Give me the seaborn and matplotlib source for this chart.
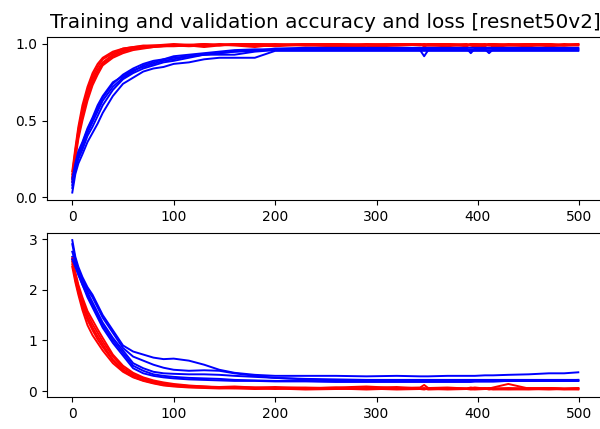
import matplotlib
matplotlib.use("Agg")
import matplotlib.pyplot as plt
import seaborn as sns

EPOCHS = [0, 3, 6, 10, 15, 20, 25, 30, 40, 50,
          60, 70, 80, 90, 100, 115, 130, 145, 160, 180,
          200, 230, 260, 290, 320, 343, 347, 351, 370, 389,
          393, 397, 407, 411, 415, 430, 450, 470, 485, 499]

# training accuracy, one list per run
acc_1 = [0.12, 0.28, 0.42, 0.55, 0.68, 0.77, 0.83, 0.88, 0.93, 0.96,
         0.97, 0.98, 0.985, 0.99, 0.99, 0.995, 0.99, 1.0, 0.995, 1.0,
         0.995, 1.0, 0.99, 1.0, 0.995, 1.0, 0.99, 1.0, 0.995, 1.0,
         0.99, 1.0, 0.995, 1.0, 0.99, 1.0, 0.995, 1.0, 0.99, 1.0]
acc_2 = [0.15, 0.30, 0.44, 0.57, 0.70, 0.79, 0.85, 0.90, 0.94, 0.97,
         0.98, 0.985, 0.99, 0.99, 0.995, 0.99, 1.0, 0.99, 1.0, 0.995,
         1.0, 0.99, 1.0, 0.995, 1.0, 0.99, 1.0, 0.995, 1.0, 0.99,
         1.0, 0.995, 1.0, 0.99, 1.0, 0.995, 1.0, 0.99, 1.0, 0.995]
acc_3 = [0.10, 0.25, 0.38, 0.50, 0.63, 0.73, 0.80, 0.86, 0.91, 0.94,
         0.96, 0.97, 0.98, 0.985, 0.99, 0.985, 0.99, 0.995, 0.99, 0.98,
         0.995, 0.99, 0.985, 0.995, 0.99, 0.995, 1.0, 0.99, 0.985, 0.995,
         0.99, 0.98, 0.995, 0.99, 0.995, 0.99, 0.985, 0.995, 0.99, 0.99]
acc_4 = [0.17, 0.32, 0.46, 0.60, 0.72, 0.81, 0.87, 0.91, 0.95, 0.97,
         0.98, 0.99, 0.99, 0.995, 1.0, 0.995, 1.0, 0.995, 1.0, 1.0,
         0.995, 1.0, 1.0, 0.995, 1.0, 1.0, 0.995, 1.0, 1.0, 0.995,
         1.0, 1.0, 0.995, 1.0, 1.0, 0.995, 1.0, 1.0, 0.995, 1.0]
acc_5 = [0.13, 0.27, 0.40, 0.53, 0.66, 0.75, 0.82, 0.87, 0.92, 0.95,
         0.97, 0.975, 0.98, 0.985, 0.985, 0.99, 0.98, 0.99, 0.995, 0.99,
         0.985, 0.995, 0.99, 0.98, 0.99, 0.995, 0.985, 0.99, 0.995, 0.985,
         0.995, 0.99, 0.985, 0.995, 0.98, 0.99, 0.995, 0.985, 0.99, 0.995]

# validation accuracy
val_acc_1 = [0.03, 0.15, 0.22, 0.28, 0.36, 0.42, 0.48, 0.55, 0.66, 0.74,
             0.78, 0.82, 0.84, 0.85, 0.87, 0.88, 0.90, 0.91, 0.91, 0.91,
             0.955, 0.955, 0.955, 0.955, 0.955, 0.955, 0.955, 0.955, 0.955, 0.955,
             0.955, 0.955, 0.955, 0.955, 0.955, 0.955, 0.955, 0.955, 0.955, 0.955]
val_acc_2 = [0.06, 0.18, 0.25, 0.31, 0.40, 0.46, 0.53, 0.60, 0.70, 0.77,
             0.81, 0.84, 0.86, 0.88, 0.89, 0.91, 0.93, 0.93, 0.93, 0.95,
             0.96, 0.96, 0.96, 0.96, 0.96, 0.96, 0.92, 0.96, 0.96, 0.96,
             0.96, 0.96, 0.96, 0.96, 0.96, 0.96, 0.96, 0.96, 0.96, 0.96]
val_acc_3 = [0.08, 0.20, 0.27, 0.33, 0.42, 0.49, 0.56, 0.63, 0.72, 0.78,
             0.82, 0.86, 0.88, 0.90, 0.91, 0.92, 0.93, 0.94, 0.95, 0.96,
             0.96, 0.97, 0.97, 0.97, 0.97, 0.97, 0.97, 0.97, 0.97, 0.97,
             0.94, 0.97, 0.97, 0.97, 0.97, 0.97, 0.97, 0.97, 0.97, 0.97]
val_acc_4 = [0.10, 0.21, 0.29, 0.35, 0.44, 0.51, 0.58, 0.65, 0.74, 0.80,
             0.84, 0.87, 0.89, 0.90, 0.92, 0.93, 0.94, 0.95, 0.96, 0.965,
             0.965, 0.965, 0.965, 0.965, 0.965, 0.965, 0.965, 0.965, 0.965, 0.965,
             0.965, 0.965, 0.965, 0.94, 0.965, 0.965, 0.965, 0.965, 0.965, 0.965]
val_acc_5 = [0.12, 0.22, 0.30, 0.36, 0.45, 0.52, 0.60, 0.66, 0.75, 0.79,
             0.83, 0.85, 0.87, 0.89, 0.90, 0.92, 0.93, 0.94, 0.95, 0.955,
             0.97, 0.975, 0.975, 0.975, 0.975, 0.975, 0.975, 0.975, 0.975, 0.975,
             0.975, 0.975, 0.975, 0.975, 0.975, 0.975, 0.975, 0.975, 0.975, 0.975]

# training loss
loss_1 = [2.45, 2.15, 1.90, 1.60, 1.30, 1.10, 0.95, 0.80, 0.55, 0.38,
          0.27, 0.20, 0.15, 0.11, 0.09, 0.07, 0.06, 0.05, 0.06, 0.04,
          0.05, 0.03, 0.04, 0.05, 0.03, 0.04, 0.03, 0.05, 0.03, 0.04,
          0.03, 0.04, 0.05, 0.03, 0.04, 0.03, 0.04, 0.03, 0.04, 0.03]
loss_2 = [2.50, 2.25, 2.00, 1.72, 1.45, 1.25, 1.08, 0.92, 0.62, 0.42,
          0.30, 0.22, 0.17, 0.13, 0.10, 0.08, 0.07, 0.08, 0.06, 0.05,
          0.06, 0.05, 0.07, 0.04, 0.06, 0.05, 0.04, 0.06, 0.05, 0.04,
          0.06, 0.05, 0.04, 0.06, 0.05, 0.04, 0.06, 0.05, 0.04, 0.05]
loss_3 = [2.55, 2.30, 2.05, 1.78, 1.52, 1.32, 1.15, 0.98, 0.68, 0.46,
          0.33, 0.25, 0.19, 0.15, 0.12, 0.10, 0.09, 0.07, 0.08, 0.07,
          0.06, 0.07, 0.05, 0.06, 0.08, 0.05, 0.06, 0.04, 0.06, 0.05,
          0.07, 0.05, 0.06, 0.05, 0.07, 0.14, 0.05, 0.06, 0.05, 0.06]
loss_4 = [2.60, 2.35, 2.10, 1.85, 1.58, 1.40, 1.22, 1.05, 0.72, 0.50,
          0.36, 0.27, 0.21, 0.17, 0.14, 0.11, 0.09, 0.08, 0.09, 0.07,
          0.08, 0.06, 0.07, 0.09, 0.06, 0.07, 0.12, 0.06, 0.07, 0.05,
          0.06, 0.07, 0.05, 0.06, 0.05, 0.06, 0.05, 0.06, 0.05, 0.05]
loss_5 = [2.62, 2.20, 1.95, 1.68, 1.40, 1.20, 1.02, 0.87, 0.60, 0.40,
          0.28, 0.21, 0.16, 0.12, 0.10, 0.09, 0.08, 0.06, 0.05, 0.06,
          0.04, 0.06, 0.05, 0.03, 0.05, 0.04, 0.05, 0.03, 0.04, 0.05,
          0.04, 0.03, 0.04, 0.05, 0.03, 0.04, 0.03, 0.05, 0.03, 0.04]

# validation loss
val_loss_1 = [2.98, 2.65, 2.45, 2.25, 2.05, 1.90, 1.70, 1.50, 1.20, 0.90,
              0.78, 0.72, 0.66, 0.63, 0.64, 0.60, 0.52, 0.42, 0.36, 0.32,
              0.30, 0.30, 0.30, 0.29, 0.30, 0.29, 0.29, 0.29, 0.30, 0.30,
              0.30, 0.30, 0.31, 0.31, 0.31, 0.32, 0.33, 0.35, 0.35, 0.37]
val_loss_2 = [2.90, 2.60, 2.40, 2.20, 2.00, 1.85, 1.65, 1.45, 1.15, 0.85,
              0.68, 0.60, 0.52, 0.46, 0.42, 0.40, 0.41, 0.40, 0.35, 0.30,
              0.26, 0.23, 0.21, 0.20, 0.20, 0.20, 0.20, 0.20, 0.20, 0.20,
              0.20, 0.20, 0.20, 0.20, 0.20, 0.20, 0.20, 0.20, 0.20, 0.20]
val_loss_3 = [2.75, 2.55, 2.35, 2.15, 1.95, 1.75, 1.55, 1.35, 1.05, 0.80,
              0.55, 0.45, 0.38, 0.35, 0.34, 0.33, 0.33, 0.32, 0.30, 0.28,
              0.26, 0.24, 0.23, 0.22, 0.22, 0.22, 0.22, 0.22, 0.22, 0.22,
              0.22, 0.22, 0.22, 0.22, 0.22, 0.22, 0.22, 0.22, 0.22, 0.22]
val_loss_4 = [2.65, 2.50, 2.30, 2.10, 1.90, 1.70, 1.50, 1.30, 1.00, 0.75,
              0.50, 0.40, 0.33, 0.30, 0.28, 0.26, 0.25, 0.24, 0.22, 0.21,
              0.20, 0.20, 0.19, 0.19, 0.19, 0.19, 0.19, 0.19, 0.19, 0.19,
              0.19, 0.19, 0.19, 0.19, 0.19, 0.20, 0.20, 0.20, 0.20, 0.20]
val_loss_5 = [2.60, 2.45, 2.30, 2.10, 1.85, 1.65, 1.45, 1.25, 0.95, 0.70,
              0.45, 0.35, 0.30, 0.27, 0.25, 0.23, 0.22, 0.21, 0.20, 0.20,
              0.19, 0.19, 0.18, 0.18, 0.18, 0.18, 0.18, 0.18, 0.18, 0.18,
              0.18, 0.19, 0.19, 0.19, 0.19, 0.20, 0.20, 0.21, 0.21, 0.22]

acc_runs = [acc_1, acc_2, acc_3, acc_4, acc_5]
val_acc_runs = [val_acc_1, val_acc_2, val_acc_3, val_acc_4, val_acc_5]
loss_runs = [loss_1, loss_2, loss_3, loss_4, loss_5]
val_loss_runs = [val_loss_1, val_loss_2, val_loss_3, val_loss_4, val_loss_5]

fig = plt.figure(figsize=(6.0, 4.29), dpi=100)
ax1 = fig.add_axes([0.0783, 0.5338, 0.9277, 0.381])
ax2 = fig.add_axes([0.0783, 0.0746, 0.9277, 0.3832])

# one fold at a time: training in red, validation in blue
for tr, va in zip(acc_runs, val_acc_runs):
    sns.lineplot(x=EPOCHS, y=tr, color="r", linewidth=1.4, ax=ax1)
    sns.lineplot(x=EPOCHS, y=va, color="b", linewidth=1.4, ax=ax1)
for tr, va in zip(loss_runs, val_loss_runs):
    sns.lineplot(x=EPOCHS, y=tr, color="r", linewidth=1.4, ax=ax2)
    sns.lineplot(x=EPOCHS, y=va, color="b", linewidth=1.4, ax=ax2)

ax1.set_title("Training and validation accuracy and loss [resnet50v2]", fontsize=14.4)
ax1.set_xticks([0, 100, 200, 300, 400, 500])
ax2.set_xticks([0, 100, 200, 300, 400, 500])
ax1.set_yticks([0.0, 0.5, 1.0])
ax2.set_yticks([0, 1, 2, 3])

fig.savefig("out.png", dpi=100)
